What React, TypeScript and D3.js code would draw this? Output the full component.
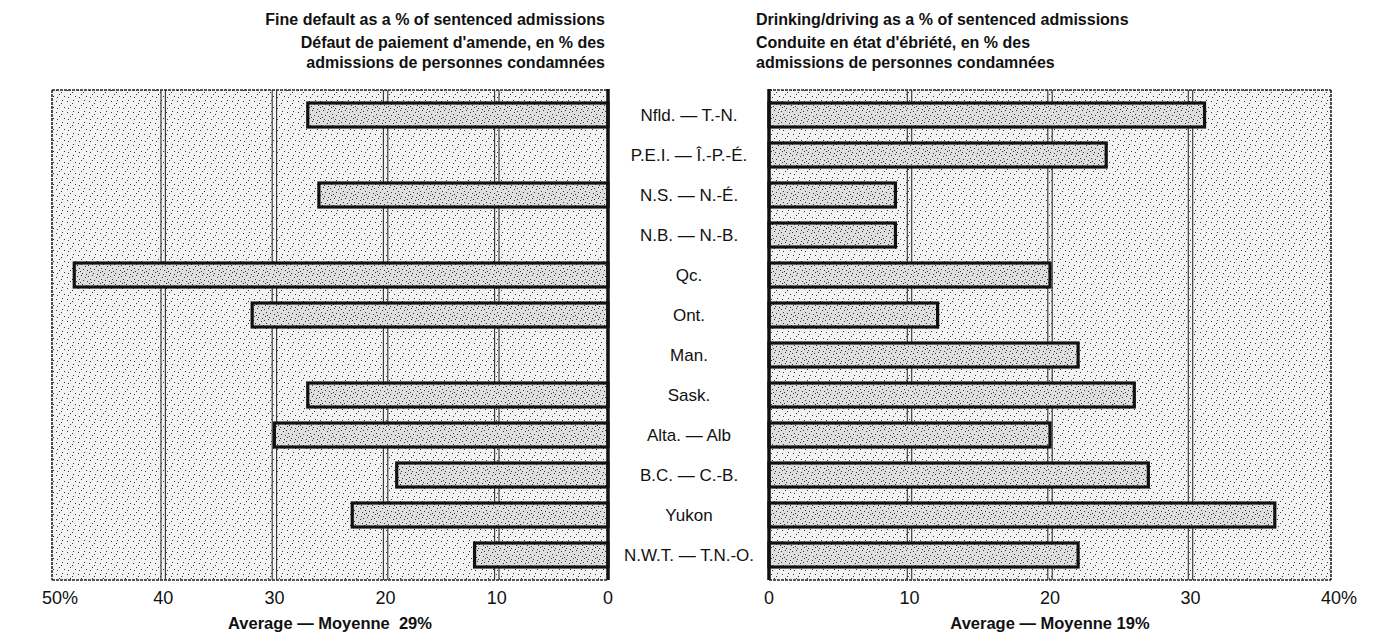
import * as d3 from "d3";
import { useRef, useEffect, ReactElement } from "react";

// provinces, top to bottom
const provinces = [
    "Nfld. — T.-N.",
    "P.E.I. — Î.-P.-É.",
    "N.S. — N.-É.",
    "N.B. — N.-B.",
    "Qc.",
    "Ont.",
    "Man.",
    "Sask.",
    "Alta. — Alb",
    "B.C. — C.-B.",
    "Yukon",
    "N.W.T. — T.N.-O.",
];

// % of sentenced admissions (null = no bar)
const fineDefault: (number | null)[] = [27, null, 26, null, 48, 32, null, 27, 30, 19, 23, 12];
const drinkingDriving: (number | null)[] = [31, 24, 9, 9, 20, 12, 22, 26, 20, 27, 36, 22];

const fineTicks = [0, 10, 20, 30, 40, 50];
const drinkTicks = [0, 10, 20, 30, 40];

const fineTitle = [
    "Fine default as a % of sentenced admissions",
    "Défaut de paiement d'amende, en % des",
    "admissions de personnes condamnées",
];
const drinkTitle = [
    "Drinking/driving as a % of sentenced admissions",
    "Conduite en état d'ébriété, en % des",
    "admissions de personnes condamnées",
];
const fineAverage = "Average — Moyenne  29%";
const drinkAverage = "Average — Moyenne 19%";

const WIDTH = 1384;
const HEIGHT = 633;
const FONT = "'Liberation Sans', Arial, Helvetica, sans-serif";
const TOP = 90;
const BOTTOM = 580;

const App = (): ReactElement => {
    const svgRef = useRef<SVGSVGElement>(null);

    useEffect(() => {
        if (!svgRef.current) return;
        const svg = d3.select(svgRef.current);
        svg.selectAll("*").remove();

        // stippled fills, like the printed screen
        const defs = svg.append("defs");
        const stipple = (id: string, bg: string, dots: number[][]) => {
            const p = defs.append("pattern")
                .attr("id", id)
                .attr("width", 11)
                .attr("height", 11)
                .attr("patternUnits", "userSpaceOnUse");
            p.append("rect").attr("width", 11).attr("height", 11).attr("fill", bg);
            p.selectAll("circle")
                .data(dots)
                .enter()
                .append("rect")
                .attr("x", (d) => d[0])
                .attr("y", (d) => d[1])
                .attr("width", 1)
                .attr("height", 1)
                .attr("fill", "#333");
        };
        stipple("panelDots", "#f3f3f3", [[1, 2], [7, 1], [4, 6], [9, 8], [2, 9], [6, 4]]);
        stipple("barDots", "#dedede", [[0, 1], [4, 0], [8, 2], [2, 4], [6, 5], [10, 6], [1, 8], [5, 9], [9, 10], [3, 7]]);

        const y = d3.scaleBand()
            .domain(provinces)
            .range([TOP, BOTTOM])
            .paddingInner(0.4)
            .paddingOuter(0.325);

        const xFine = d3.scaleLinear().domain([0, 50]).range([608, 52]);
        const xDrink = d3.scaleLinear().domain([0, 40]).range([769, 1331]);

        const drawPanel = (
            x: d3.ScaleLinear<number, number>,
            values: (number | null)[],
            ticks: number[],
            average: string,
        ) => {
            const g = svg.append("g");
            const [r0, r1] = x.range();
            const lo = Math.min(r0, r1);
            const hi = Math.max(r0, r1);
            const outer = x(ticks[ticks.length - 1]);

            // background
            g.append("rect")
                .attr("x", lo)
                .attr("y", TOP)
                .attr("width", hi - lo)
                .attr("height", BOTTOM - TOP)
                .attr("fill", "url(#panelDots)");

            // rough dotted frame
            const frame = [
                [lo, TOP, hi, TOP],
                [lo, BOTTOM, hi, BOTTOM],
                [outer, TOP, outer, BOTTOM],
            ];
            g.selectAll(".frame")
                .data(frame)
                .enter()
                .append("line")
                .attr("x1", (d) => d[0])
                .attr("y1", (d) => d[1])
                .attr("x2", (d) => d[2])
                .attr("y2", (d) => d[3])
                .attr("stroke", "#222")
                .attr("stroke-width", 1.6)
                .attr("stroke-dasharray", "3,1");

            // double grid lines
            const inner = ticks.slice(1, -1);
            [-2.2, 2.2].forEach((off) => {
                g.selectAll(null)
                    .data(inner)
                    .enter()
                    .append("line")
                    .attr("x1", (d) => x(d) + off)
                    .attr("x2", (d) => x(d) + off)
                    .attr("y1", TOP)
                    .attr("y2", BOTTOM)
                    .attr("stroke", "#333")
                    .attr("stroke-width", 1.1);
            });

            // bars
            const rows = provinces
                .map((name, i) => ({ name, value: values[i] }))
                .filter((d) => d.value != null) as { name: string; value: number }[];
            g.selectAll(".bar")
                .data(rows)
                .enter()
                .append("rect")
                .attr("x", (d) => Math.min(x(0), x(d.value)))
                .attr("y", (d) => y(d.name)!)
                .attr("width", (d) => Math.abs(x(d.value) - x(0)))
                .attr("height", y.bandwidth())
                .attr("fill", "url(#barDots)")
                .attr("stroke", "#111")
                .attr("stroke-width", 3.2);

            // zero axis
            g.append("line")
                .attr("x1", x(0))
                .attr("x2", x(0))
                .attr("y1", TOP - 1)
                .attr("y2", BOTTOM)
                .attr("stroke", "#111")
                .attr("stroke-width", 3.5);

            // tick labels
            g.selectAll(".tick")
                .data(ticks)
                .enter()
                .append("text")
                .attr("x", (d) => x(d))
                .attr("y", 604)
                .attr("text-anchor", "middle")
                .attr("font-family", FONT)
                .attr("font-size", 18)
                .attr("fill", "#111")
                .text((d) => String(d));
            g.append("text")
                .attr("x", outer + 10)
                .attr("y", 604)
                .attr("font-family", FONT)
                .attr("font-size", 18)
                .attr("fill", "#111")
                .text("%");

            // average
            g.append("text")
                .attr("x", (lo + hi) / 2)
                .attr("y", 629)
                .attr("text-anchor", "middle")
                .attr("font-family", FONT)
                .attr("font-size", 16.5)
                .attr("font-weight", "bold")
                .attr("fill", "#111")
                .style("white-space", "pre")
                .text(average);
        };

        drawPanel(xFine, fineDefault, fineTicks, fineAverage);
        drawPanel(xDrink, drinkingDriving, drinkTicks, drinkAverage);

        // province labels
        svg.append("g")
            .selectAll("text")
            .data(provinces)
            .enter()
            .append("text")
            .attr("x", 689)
            .attr("y", (d) => y(d)! + y.bandwidth() / 2 + 6)
            .attr("text-anchor", "middle")
            .attr("font-family", FONT)
            .attr("font-size", 17)
            .attr("fill", "#111")
            .text((d) => d);

        // titles
        const titleY = [25, 48, 68];
        svg.append("g")
            .selectAll("text")
            .data(fineTitle)
            .enter()
            .append("text")
            .attr("x", 605)
            .attr("y", (d, i) => titleY[i])
            .attr("text-anchor", "end")
            .attr("font-family", FONT)
            .attr("font-size", 16)
            .attr("font-weight", "bold")
            .attr("fill", "#111")
            .text((d) => d);
        svg.append("g")
            .selectAll("text")
            .data(drinkTitle)
            .enter()
            .append("text")
            .attr("x", 756)
            .attr("y", (d, i) => titleY[i])
            .attr("font-family", FONT)
            .attr("font-size", 16)
            .attr("font-weight", "bold")
            .attr("fill", "#111")
            .text((d) => d);

        return () => {
            svg.selectAll("*").remove();
        };
    }, []);

    return (
        <svg
            ref={svgRef}
            width={WIDTH}
            height={HEIGHT}
            style={{ position: "absolute", left: 0, top: 0, background: "#fff" }}
        ></svg>
    );
};

export default App;
